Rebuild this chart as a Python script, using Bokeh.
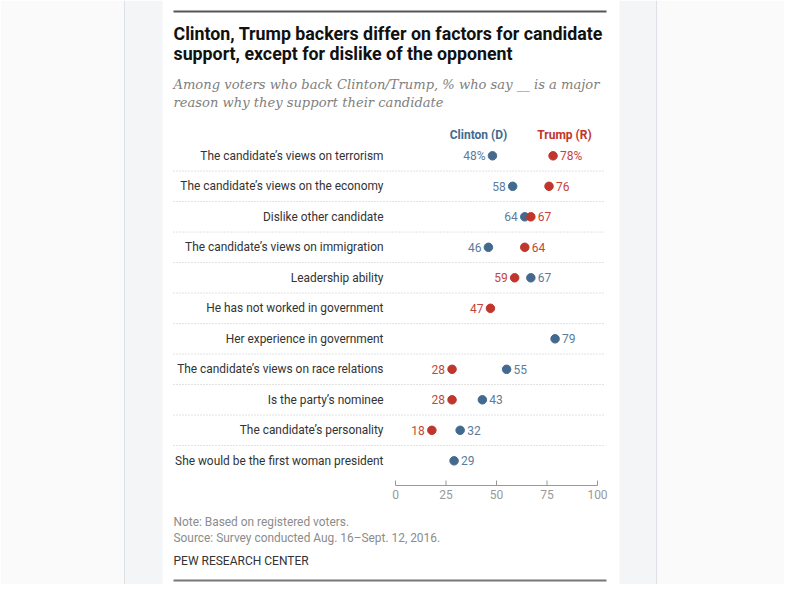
from bokeh.plotting import figure
from bokeh.models import ColumnDataSource, Range1d
from bokeh.core.properties import value
from bokeh.embed import file_html
from bokeh.resources import INLINE

# ---------------- data ----------------
categories = [
    "The candidate\u2019s views on terrorism",
    "The candidate\u2019s views on the economy",
    "Dislike other candidate",
    "The candidate\u2019s views on immigration",
    "Leadership ability",
    "He has not worked in government",
    "Her experience in government",
    "The candidate\u2019s views on race relations",
    "Is the party\u2019s nominee",
    "The candidate\u2019s personality",
    "She would be the first woman president",
]
clinton = [48, 58, 64, 46, 67, None, 79, 55, 43, 32, 29]
trump = [78, 76, 67, 64, 59, 47, None, 28, 28, 18, None]
ticks = [0, 25, 50, 75, 100]
series_names = ["Clinton (D)", "Trump (R)"]
title_lines = ["Clinton, Trump backers differ on factors for candidate",
               "support, except for dislike of the opponent"]
subtitle_lines = ["Among voters who back Clinton/Trump, % who say __ is a major",
                  "reason why they support their candidate"]
note_lines = ["Note: Based on registered voters.",
              "Source: Survey conducted Aug. 16\u2013Sept. 12, 2016."]
source_label = "PEW RESEARCH CENTER"

# ---------------- layout helpers (pixels -> data units) ----------------
X0, XS = 395.0, 2.02      # pixel x of value 0, px per unit
Y0, YS = 155.3, 30.5      # pixel y of first row, px per row
def X(px):
    return (px - X0) / XS
def Y(py):
    return (py - Y0) / YS

W, H = 784, 584
BLUE = "#436a8e"
RED = "#c0352c"
BLUE_T = "#5b7c9d"
RED_T = "#c4453c"
SANS = "Roboto"

p = figure(width=W, height=H,
           x_range=Range1d(X(0), X(W)), y_range=Range1d(Y(H), Y(0)),
           output_backend="svg", toolbar_location=None,
           min_border_left=0, min_border_right=0, min_border_top=0,
           min_border_bottom=0, x_axis_location=None, y_axis_location=None)
p.grid.visible = False
p.outline_line_color = None
p.background_fill_color = "white"
p.border_fill_color = "white"

# card background
bg = [(0, 124, "#fafafa"), (656, W, "#fafafa"),
      (124, 162, "#f4f5f7"), (619, 656, "#f4f5f7"),
      (123.5, 124.5, "#dde1e6"), (655.5, 656.5, "#dde1e6")]
p.quad(left=[X(b[0]) for b in bg], right=[X(b[1]) for b in bg],
       top=[Y(0)] * len(bg), bottom=[Y(H)] * len(bg),
       fill_color=[b[2] for b in bg], line_color=None)

# rules
p.segment(x0=[X(173), X(173)], y0=[Y(11), Y(580)], x1=[X(606), X(606)], y1=[Y(11), Y(580)],
          line_color=["#555555", "#777777"], line_width=2)

# title & subtitle
p.text(x=[X(173)] * 2, y=[Y(33.3), Y(53.3)], text=title_lines, text_color="#111111",
       text_font=value(SANS), text_font_style="bold", text_font_size="17.8px",
       text_baseline="middle")
p.text(x=[X(173)] * 2, y=[Y(84.3), Y(101.5)], text=subtitle_lines, text_color="#808080",
       text_font=value("DejaVu Serif"), text_font_style="italic", text_font_size="13.1px",
       text_baseline="middle")

# column headers
p.text(x=[X(478), X(564)], y=[Y(134), Y(134)], text=series_names,
       text_color=[BLUE, RED], text_font=value(SANS), text_font_style="bold",
       text_font_size="12px", text_align="center", text_baseline="middle")

# separators
n = len(categories)
sep_y = [i + 0.5 for i in range(n - 1)]
p.segment(x0=[X(173)] * len(sep_y), y0=sep_y, x1=[X(605)] * len(sep_y), y1=sep_y,
          line_color="#c4c4c4", line_width=1, line_dash="1 2")

# category labels
p.text(x=[X(383)] * n, y=list(range(n)), text=categories, text_color="#333333",
       text_font=value(SANS), text_font_size="11.9px", text_align="right",
       text_baseline="middle")

# points and value labels
def build(vals, other, default_side):
    xs, ys, labs, sides = [], [], [], []
    for i, v in enumerate(vals):
        if v is None:
            continue
        o = other[i]
        if o is None:
            side = default_side
        else:
            side = "left" if v < o else "right"
        xs.append(v)
        ys.append(i)
        labs.append(f"{v}%" if i == 0 else str(v))
        sides.append(side)
    return xs, ys, labs, sides

for vals, other, default_side, dc, tc in [(clinton, trump, "right", BLUE, BLUE_T),
                                          (trump, clinton, "left", RED, RED_T)]:
    xs, ys, labs, sides = build(vals, other, default_side)
    src = ColumnDataSource(dict(x=xs, y=ys))
    p.scatter("x", "y", source=src, size=8.5, fill_color=dc, line_color=dc)
    for side, align, off in [("left", "right", -7), ("right", "left", 7)]:
        idx = [k for k, s in enumerate(sides) if s == side]
        if not idx:
            continue
        s2 = ColumnDataSource(dict(x=[xs[k] for k in idx], y=[ys[k] for k in idx],
                                   t=[labs[k] for k in idx]))
        p.text("x", "y", text="t", source=s2, x_offset=off, text_color=tc,
               text_font=value(SANS), text_font_size="12px", text_align=align,
               text_baseline="middle")

# x axis (drawn through the data scale)
axis_y = Y(485)
p.segment(x0=[ticks[0]], y0=[axis_y], x1=[ticks[-1]], y1=[axis_y],
          line_color="#999999", line_width=1)
p.segment(x0=ticks, y0=[axis_y] * len(ticks), x1=ticks, y1=[Y(480)] * len(ticks),
          line_color="#999999", line_width=1)
p.text(x=ticks, y=[Y(494)] * len(ticks), text=[str(t) for t in ticks],
       text_color="#999999", text_font=value(SANS), text_font_size="12px",
       text_align="center", text_baseline="middle")

# footer
p.text(x=[X(173)] * 2, y=[Y(521), Y(537)], text=note_lines, text_color="#8c8c8c",
       text_font=value(SANS), text_font_size="11.9px", text_baseline="middle")
p.text(x=[X(173)], y=[Y(560)], text=[source_label], text_color="#333333",
       text_font=value(SANS), text_font_size="12px", text_baseline="middle")

open("out.html", "w").write(file_html(p, INLINE))
